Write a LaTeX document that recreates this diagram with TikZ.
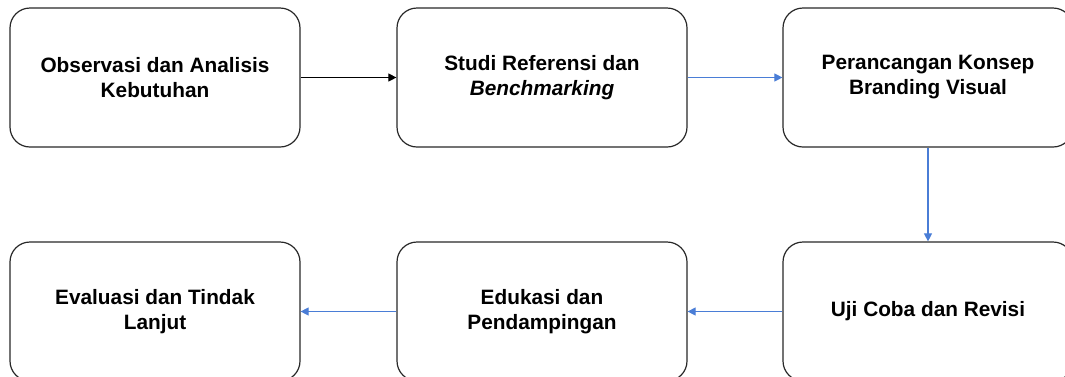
\documentclass[tikz,border=0pt]{standalone}
\usepackage{fontspec}
\setmainfont{Liberation Sans}
\usetikzlibrary{arrows.meta}
\definecolor{flowblue}{RGB}{74,125,214}
\definecolor{boxline}{RGB}{40,40,40}
\begin{document}
\begin{tikzpicture}[x=1pt,y=-1pt,
  stepbox/.style={draw=boxline, line width=1.2pt, rounded corners=20pt,
    minimum width=290pt, minimum height=139pt, align=center, inner sep=0pt,
    font=\bfseries\fontsize{20.8}{25}\selectfont},
  flow/.style={line width=1.1pt, -{Triangle[length=8pt,width=8pt]}},
  blueflow/.style={flow, draw=flowblue, fill=flowblue}]
\useasboundingbox (0,0) rectangle (1065,376);
\node[stepbox] (obs) at (155,77.5) {Observasi dan Analisis\\Kebutuhan};
\node[stepbox] (stu) at (542,77.5) {Studi Referensi dan\\\textit{Benchmarking}};
\node[stepbox] (per) at (928,77.5) {Perancangan Konsep\\Branding Visual};
\node[stepbox] (uji) at (928,311.5) {Uji Coba dan Revisi};
\node[stepbox] (edu) at (542,311.5) {Edukasi dan\\Pendampingan};
\node[stepbox] (eva) at (155,311.5) {Evaluasi dan Tindak\\Lanjut};
\draw[flow] (obs.east) -- (stu.west);
\draw[blueflow] (stu.east) -- (per.west);
\draw[blueflow] (per.south) -- (uji.north);
\draw[blueflow] (uji.west) -- (edu.east);
\draw[blueflow] (edu.west) -- (eva.east);
\end{tikzpicture}
\end{document}
